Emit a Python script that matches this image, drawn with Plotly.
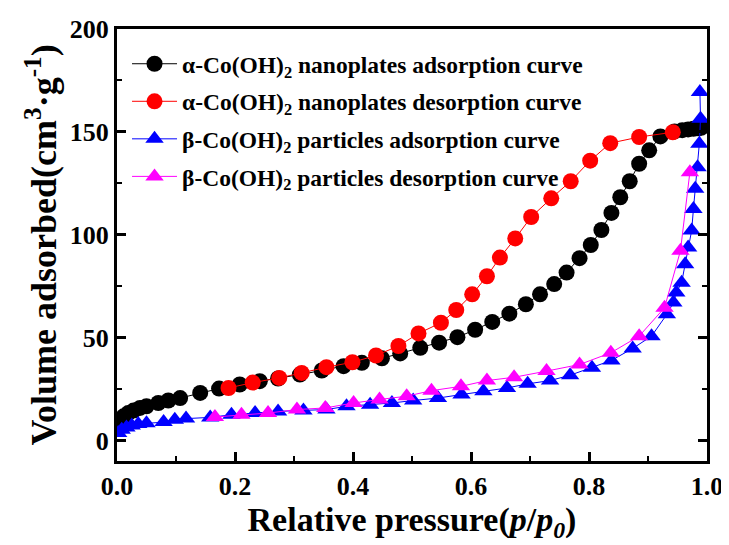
import plotly.graph_objects as go

# alpha-Co(OH)2 nanoplates adsorption
a_ads_p = [0.002, 0.005, 0.011, 0.019, 0.028, 0.039, 0.050, 0.070, 0.087, 0.107, 0.141, 0.173,
           0.208, 0.242, 0.273, 0.310, 0.347, 0.384, 0.415, 0.449, 0.480, 0.514, 0.546, 0.577,
           0.607, 0.636, 0.665, 0.693, 0.717, 0.741, 0.762, 0.784, 0.803, 0.821, 0.838, 0.853,
           0.869, 0.885, 0.902, 0.921, 0.945, 0.958, 0.968, 0.977, 0.985, 0.990]
a_ads_v = [7.6, 10.0, 11.7, 13.3, 14.5, 15.8, 16.6, 18.2, 19.4, 20.6, 23.1, 25.2,
           27.2, 28.8, 30.1, 32.0, 34.0, 36.1, 37.7, 39.9, 42.3, 45.0, 47.5, 50.2,
           53.8, 57.6, 61.6, 66.2, 71.0, 76.0, 81.6, 88.6, 95.0, 102.3, 110.6, 118.2,
           126.0, 134.5, 141.0, 147.8, 150.2, 150.8, 151.2, 151.5, 151.7, 152.0]

# alpha-Co(OH)2 nanoplates desorption
a_des_p = [0.942, 0.885, 0.836, 0.802, 0.769, 0.736, 0.702, 0.675, 0.649, 0.627, 0.602, 0.575,
           0.549, 0.511, 0.477, 0.439, 0.399, 0.355, 0.313, 0.275, 0.230, 0.189]
a_des_v = [149.8, 147.5, 144.5, 136.0, 126.0, 117.7, 108.6, 98.2, 88.9, 79.8, 71.0, 63.4,
           57.2, 52.0, 45.9, 41.3, 38.0, 35.6, 32.8, 30.4, 28.1, 25.5]

# beta-Co(OH)2 particles adsorption
b_ads_p = [0.002, 0.008, 0.016, 0.025, 0.036, 0.050, 0.079, 0.098, 0.117, 0.158, 0.194, 0.234,
           0.273, 0.316, 0.355, 0.389, 0.429, 0.466, 0.502, 0.544, 0.584, 0.621, 0.661, 0.696,
           0.734, 0.768, 0.805, 0.838, 0.874, 0.906, 0.932, 0.943, 0.948, 0.957, 0.963, 0.968,
           0.974, 0.977, 0.980, 0.984, 0.987, 0.989, 0.988]
b_ads_v = [3.6, 5.2, 6.3, 7.3, 8.0, 8.4, 8.9, 10.1, 10.6, 11.2, 12.5, 13.3,
           14.1, 14.6, 15.0, 16.6, 17.4, 18.2, 19.4, 20.6, 22.3, 23.9, 25.5, 27.5,
           29.1, 31.7, 35.3, 38.9, 44.7, 50.7, 61.3, 67.0, 71.9, 76.7, 85.7, 93.8,
           102.0, 112.5, 122.3, 132.8, 144.2, 156.4, 169.4]

# beta-Co(OH)2 particles desorption
b_des_p = [0.971, 0.955, 0.928, 0.885, 0.837, 0.784, 0.728, 0.673, 0.627, 0.583, 0.533, 0.491,
           0.445, 0.401, 0.353, 0.305, 0.256, 0.211, 0.166]
b_des_v = [130.4, 92.2, 64.5, 50.7, 42.6, 36.9, 33.7, 30.7, 29.1, 26.3, 24.2, 21.5,
           19.9, 18.2, 15.8, 15.0, 13.3, 12.5, 11.4]

names = ["α-Co(OH)<sub>2</sub> nanoplates adsorption curve",
         "α-Co(OH)<sub>2</sub> nanoplates desorption curve",
         "β-Co(OH)<sub>2</sub> particles adsorption curve",
         "β-Co(OH)<sub>2</sub> particles desorption curve"]

FONT = "Liberation Serif"

fig = go.Figure()
series = [
    (a_ads_p, a_ads_v, "#000000", "circle", 16),
    (a_des_p, a_des_v, "#ff0000", "circle", 16),
    (b_ads_p, b_ads_v, "#0000ff", "triangle-up", 16),
    (b_des_p, b_des_v, "#ff00ff", "triangle-up", 16),
]
for i, (px, py, col, sym, sz) in enumerate(series):
    fig.add_trace(go.Scatter(
        x=px, y=py, mode="lines+markers", name=names[i],
        line=dict(color=col, width=1),
        marker=dict(color=col, symbol=sym, size=sz, line=dict(width=0)),
        legendgroup=f"g{i}",
    ))

axis_common = dict(
    showline=True, linecolor="black", linewidth=3, mirror=True,
    ticks="inside", ticklen=9, tickwidth=2.5, tickcolor="black",
    showgrid=False, zeroline=False, automargin=False,
    tickfont=dict(family=FONT, size=26, color="black", weight="bold"),
)

fig.update_xaxes(
    range=[0, 1], dtick=0.2, tickformat=".1f",
    minor=dict(ticks="inside", ticklen=5, tickwidth=2, dtick=0.1, tickcolor="black"),
    title=dict(text="Relative pressure(<i>p</i>/<i>p</i><sub><i>0</i></sub>)",
               font=dict(family=FONT, size=34, color="black", weight="bold"), standoff=2),
    **axis_common,
)
fig.update_yaxes(
    range=[-10, 200], dtick=50,
    minor=dict(ticks="inside", ticklen=5, tickwidth=2, dtick=25, tickcolor="black"),
    title=dict(text="Volume adsorbed(cm<sup>3</sup>·g<sup>-1</sup>)",
               font=dict(family=FONT, size=36, color="black", weight="bold"), standoff=3),
    **axis_common,
)
fig.update_yaxes(mirror="ticks")

# page body has an 8px margin, so the figure is offset by 8px
fig.update_layout(
    width=721, height=537,
    margin=dict(l=109, r=22, t=21, b=84),
    paper_bgcolor="white", plot_bgcolor="white",
    font=dict(family=FONT, color="black", weight="bold"),
    showlegend=True,
    legend=dict(x=0.017, y=0.97, xanchor="left", yanchor="top",
                bgcolor="rgba(0,0,0,0)", borderwidth=0,
                font=dict(family=FONT, size=23.5, color="black", weight="bold"),
                tracegroupgap=4, itemwidth=45),
)

fig.write_html("out.html")
